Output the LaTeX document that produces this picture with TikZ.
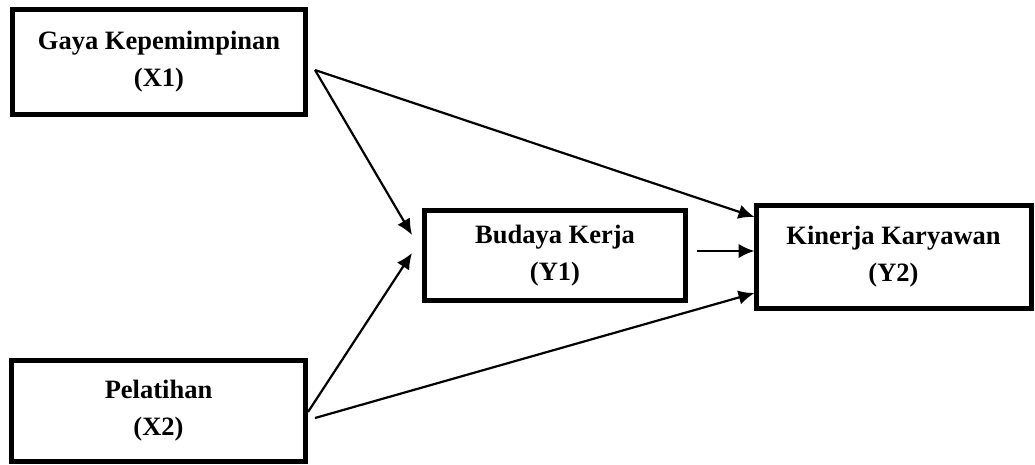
\documentclass[tikz,border=0pt]{standalone}
\usepackage{fontspec}
\setmainfont{Liberation Serif}
\usetikzlibrary{arrows.meta}
\begin{document}
\begin{tikzpicture}[x=1pt, y=-1pt, >={Latex[length=16pt,width=14.5pt]},
    varbox/.style={draw, line width=5pt, align=center, inner sep=0pt,
        font=\bfseries\fontsize{26.5}{37}\selectfont},
    link/.style={->, line width=2.2pt}]
        \useasboundingbox (0,0) rectangle (1035,464);
        \node[varbox, minimum width=293pt, minimum height=105pt] (x1) at (159,62) {Gaya Kepemimpinan\\(X1)};
        \node[varbox, minimum width=294pt, minimum height=101pt] (x2) at (158.5,411) {Pelatihan\\(X2)};
        \node[varbox, minimum width=261pt, minimum height=90pt] (y1) at (555,255.5) {Budaya Kerja\\(Y1)};
        \node[varbox, minimum width=275pt, minimum height=103pt] (y2) at (893.5,257) {Kinerja Karyawan\\(Y2)};
        % panah
        \draw [link] ([xshift=7pt,yshift=-8pt]x1.east)--([xshift=-10pt,yshift=20.5pt]y1.west);
        \draw [link] ([yshift=-1pt]x2.east)--([xshift=-10pt,yshift=2.5pt]y1.west);
        \draw [link] ([xshift=7pt,yshift=-8pt]x1.east)--([xshift=1pt,yshift=40pt]y2.west);
        \draw [link] ([xshift=9pt,yshift=4.5pt]y1.east)--([xshift=1pt,yshift=6pt]y2.west);
        \draw [link] ([xshift=7pt,yshift=-7pt]x2.east)--([xshift=1pt,yshift=-36pt]y2.west);
    \end{tikzpicture}
\end{document}
